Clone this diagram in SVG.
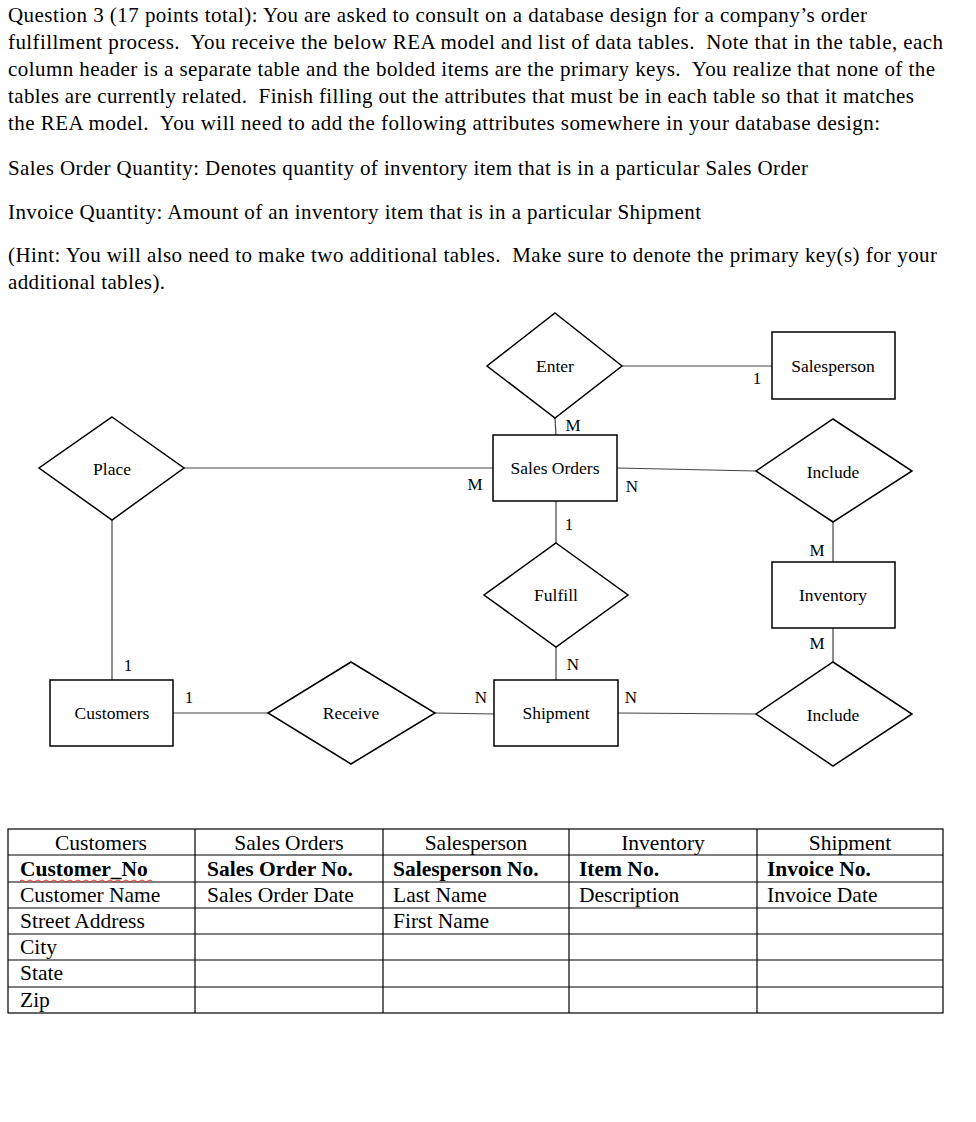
<svg xmlns="http://www.w3.org/2000/svg" width="976" height="1122" viewBox="0 0 976 1122">
<style>
.h{font-family:"Liberation Serif","Times New Roman",serif;font-size:21px;fill:#000;white-space:pre}
.n{font-family:"Liberation Serif","Times New Roman",serif;font-size:17.5px;fill:#000;text-anchor:middle;dominant-baseline:central}
.c{font-family:"Liberation Serif","Times New Roman",serif;font-size:17px;fill:#000;text-anchor:middle;dominant-baseline:central}
.t{font-family:"Liberation Serif","Times New Roman",serif;font-size:21.5px;fill:#000}
.tc{text-anchor:middle}
.b{font-weight:bold}
.shape{fill:#fff;stroke:#000;stroke-width:1.5}
.conn line{stroke:#444;stroke-width:1.2}
.grid line{stroke:#000;stroke-width:1.2}
</style>
<rect width="976" height="1122" fill="#fff"/>
<g id="question-text">
<text class="h" x="8" y="22" textLength="859">Question 3 (17 points total): You are asked to consult on a database design for a company’s order</text>
<text class="h" x="8" y="49" textLength="935">fulfillment process.  You receive the below REA model and list of data tables.  Note that in the table, each</text>
<text class="h" x="8" y="76" textLength="927">column header is a separate table and the bolded items are the primary keys.  You realize that none of the</text>
<text class="h" x="8" y="103" textLength="906">tables are currently related.  Finish filling out the attributes that must be in each table so that it matches</text>
<text class="h" x="8" y="130" textLength="872">the REA model.  You will need to add the following attributes somewhere in your database design:</text>
<text class="h" x="8" y="175" textLength="800">Sales Order Quantity: Denotes quantity of inventory item that is in a particular Sales Order</text>
<text class="h" x="8" y="219" textLength="693">Invoice Quantity: Amount of an inventory item that is in a particular Shipment</text>
<text class="h" x="8" y="262" textLength="929">(Hint: You will also need to make two additional tables.  Make sure to denote the primary key(s) for your</text>
<text class="h" x="8" y="289" textLength="157">additional tables).</text>
</g>
<g id="connectors" class="conn">
<line x1="622" y1="366" x2="772" y2="366"/>
<line x1="555" y1="418" x2="556" y2="435"/>
<line x1="184" y1="468" x2="493" y2="468"/>
<line x1="617" y1="468" x2="756" y2="471"/>
<line x1="833" y1="522" x2="833" y2="562"/>
<line x1="556" y1="501" x2="556" y2="543"/>
<line x1="112" y1="520" x2="112" y2="680"/>
<line x1="173" y1="713" x2="268" y2="713"/>
<line x1="435" y1="713" x2="494" y2="714"/>
<line x1="556" y1="647" x2="556" y2="680"/>
<line x1="618" y1="713" x2="756" y2="714"/>
<line x1="833" y1="628" x2="833" y2="662"/>
</g>
<g id="cardinalities">
<text class="c" x="757" y="378">1</text>
<text class="c" x="573" y="425">M</text>
<text class="c" x="475" y="484">M</text>
<text class="c" x="632" y="486">N</text>
<text class="c" x="569" y="524">1</text>
<text class="c" x="817" y="550">M</text>
<text class="c" x="817" y="643">M</text>
<text class="c" x="128" y="665">1</text>
<text class="c" x="189" y="697">1</text>
<text class="c" x="481" y="697">N</text>
<text class="c" x="573" y="664">N</text>
<text class="c" x="631" y="697">N</text>
</g>
<g id="enter"><polygon class="shape" points="555,313 622,366 555,418 487,366"/><text class="n" x="555" y="366">Enter</text></g>
<g id="salesperson"><rect class="shape" x="772" y="332" width="123" height="67"/><text class="n" x="833" y="366">Salesperson</text></g>
<g id="place"><polygon class="shape" points="112,417 184,468 112,520 39,468"/><text class="n" x="112" y="469">Place</text></g>
<g id="sales-orders"><rect class="shape" x="493" y="435" width="124" height="66"/><text class="n" x="555" y="468">Sales Orders</text></g>
<g id="include-1"><polygon class="shape" points="833,419 912,471 833,522 756,471"/><text class="n" x="833" y="472">Include</text></g>
<g id="fulfill"><polygon class="shape" points="556,543 628,595 556,647 484,595"/><text class="n" x="556" y="595">Fulfill</text></g>
<g id="inventory"><rect class="shape" x="772" y="562" width="123" height="66"/><text class="n" x="833" y="595">Inventory</text></g>
<g id="customers"><rect class="shape" x="50" y="680" width="123" height="66"/><text class="n" x="112" y="713">Customers</text></g>
<g id="receive"><polygon class="shape" points="351,662 435,713 351,764 268,713"/><text class="n" x="351" y="713">Receive</text></g>
<g id="shipment"><rect class="shape" x="494" y="680" width="124" height="66"/><text class="n" x="556" y="713">Shipment</text></g>
<g id="include-2"><polygon class="shape" points="833,662 912,714 833,766 756,714"/><text class="n" x="833" y="715">Include</text></g>
<g id="table">
<rect x="8" y="829" width="935" height="184" fill="none" stroke="#000" stroke-width="1.2"/>
<g class="grid">
<line x1="195" y1="829" x2="195" y2="1013"/>
<line x1="383" y1="829" x2="383" y2="1013"/>
<line x1="569" y1="829" x2="569" y2="1013"/>
<line x1="757" y1="829" x2="757" y2="1013"/>
<line x1="8" y1="855" x2="943" y2="855"/>
<line x1="8" y1="882" x2="943" y2="882"/>
<line x1="8" y1="908" x2="943" y2="908"/>
<line x1="8" y1="934" x2="943" y2="934"/>
<line x1="8" y1="960" x2="943" y2="960"/>
<line x1="8" y1="987" x2="943" y2="987"/>
</g>
<text class="t tc" x="101" y="850">Customers</text>
<text class="t tc" x="289" y="850">Sales Orders</text>
<text class="t tc" x="476" y="850">Salesperson</text>
<text class="t tc" x="663" y="850">Inventory</text>
<text class="t tc" x="850" y="850">Shipment</text>
<text class="t b" x="20" y="876">Customer_No</text>
<text class="t b" x="207" y="876">Sales Order No.</text>
<text class="t b" x="393" y="876">Salesperson No.</text>
<text class="t b" x="579" y="876">Item No.</text>
<text class="t b" x="767" y="876">Invoice No.</text>
<path d="M20,881 q2,-2 4,0 t4,0 t4,0 t4,0 t4,0 t4,0 t4,0 t4,0 t4,0 t4,0 t4,0 t4,0 t4,0 t4,0 t4,0 t4,0 t4,0 t4,0 t4,0 t4,0 t4,0 t4,0 t4,0 t4,0 t4,0 t4,0 t4,0 t4,0 t4,0 t4,0 t4,0 t4,0 t4,0" fill="none" stroke="#e03030" stroke-width="1"/>
<text class="t" x="20" y="902">Customer Name</text>
<text class="t" x="207" y="902">Sales Order Date</text>
<text class="t" x="393" y="902">Last Name</text>
<text class="t" x="579" y="902">Description</text>
<text class="t" x="767" y="902">Invoice Date</text>
<text class="t" x="20" y="928">Street Address</text>
<text class="t" x="393" y="928">First Name</text>
<text class="t" x="20" y="954">City</text>
<text class="t" x="20" y="980">State</text>
<text class="t" x="20" y="1007">Zip</text>
</g>
</svg>
